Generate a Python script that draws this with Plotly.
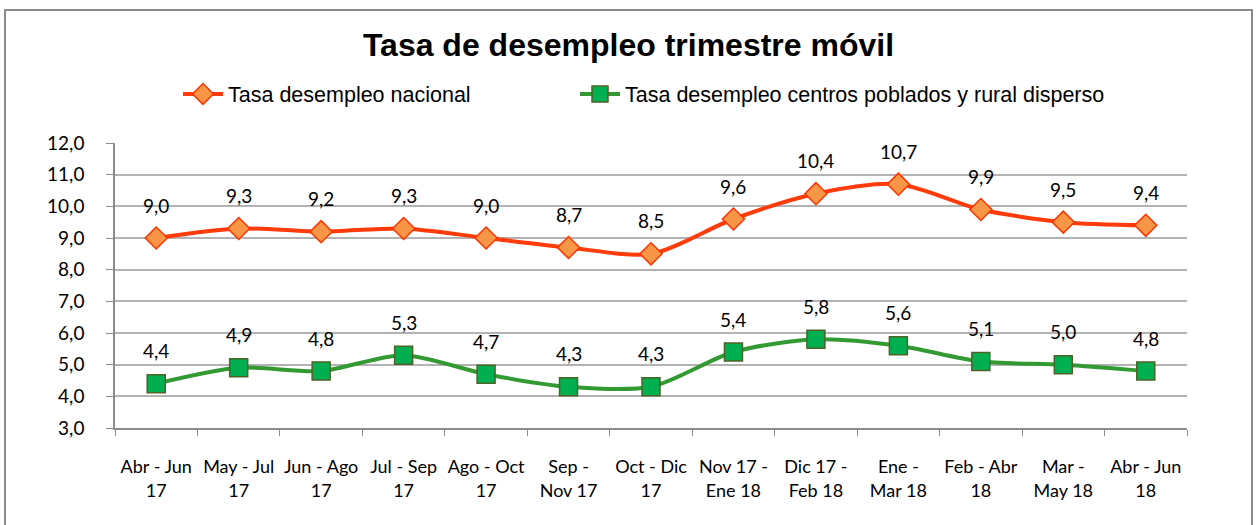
import plotly.graph_objects as go

categories = ["Abr - Jun<br>17", "May - Jul<br>17", "Jun - Ago<br>17", "Jul - Sep<br>17",
              "Ago - Oct<br>17", "Sep -<br>Nov 17", "Oct - Dic<br>17", "Nov 17 -<br>Ene 18",
              "Dic 17 -<br>Feb 18", "Ene -<br>Mar 18", "Feb - Abr<br>18", "Mar -<br>May 18",
              "Abr - Jun<br>18"]
nacional = [9.0, 9.3, 9.2, 9.3, 9.0, 8.7, 8.5, 9.6, 10.4, 10.7, 9.9, 9.5, 9.4]
rural = [4.4, 4.9, 4.8, 5.3, 4.7, 4.3, 4.3, 5.4, 5.8, 5.6, 5.1, 5.0, 4.8]
name_nacional = "Tasa desempleo nacional"
name_rural = "Tasa desempleo centros poblados y rural disperso"
y_ticks = [3, 4, 5, 6, 7, 8, 9, 10, 11, 12]

fig = go.Figure()
fig.add_trace(go.Scatter(
    x=categories, y=nacional, name=name_nacional, mode="lines+markers", legend="legend",
    line=dict(color="#FF3B0A", width=4, shape="spline", smoothing=0.8),
    marker=dict(symbol="diamond", size=17, color="#F79646", line=dict(color="#FF3300", width=1.5)),
))
fig.add_trace(go.Scatter(
    x=categories, y=rural, name=name_rural, mode="lines+markers", legend="legend2",
    line=dict(color="#339933", width=4, shape="spline", smoothing=0.8),
    marker=dict(symbol="square", size=18, color="#00B050", line=dict(color="#4F6228", width=1.5)),
))

for series in (nacional, rural):
    for c, v in zip(categories, series):
        fig.add_annotation(x=c, y=v, text=f"{v:.1f}".replace(".", ","), showarrow=False,
                           yshift=33, font=dict(family="Lato", size=19, color="#000000"))

fig.add_shape(type="rect", xref="paper", yref="paper",
              x0=(5 - 115) / 1072, x1=(1252 - 115) / 1072,
              y0=(428 - 540) / 285, y1=(428 - 10) / 285,
              line=dict(color="#8C8C8C", width=2), layer="below")

legend_style = dict(orientation="h", y=(428 - 94) / 285, yanchor="middle", xanchor="left",
                    font=dict(family="Liberation Sans", size=21.5, color="#000000"),
                    bgcolor="rgba(0,0,0,0)", itemwidth=40)

fig.update_layout(
    width=1257, height=525,
    margin=dict(l=115, r=70, t=143, b=97),
    paper_bgcolor="white", plot_bgcolor="white",
    separators=",.",
    title=dict(text="<b>Tasa de desempleo trimestre móvil</b>", x=0.5, xanchor="center",
               y=1 - 45 / 525, yanchor="middle",
               font=dict(family="Liberation Sans", size=32, color="#000000")),
    legend=dict(x=(178 - 115) / 1072, **legend_style),
    legend2=dict(x=(575 - 115) / 1072, **legend_style),
    showlegend=True,
)
fig.update_xaxes(
    type="category", range=[-0.5, 12.5], tickson="boundaries", ticks="outside", ticklen=6,
    tickcolor="#8C8C8C", showline=True, linecolor="#8C8C8C", linewidth=1.5, showgrid=False,
    tickangle=0, automargin=False,
    tickfont=dict(family="Lato", size=18, color="#000000"), ticklabelstandoff=22,
)
fig.update_yaxes(
    range=[3, 12], tickvals=y_ticks, tickformat=".1f", ticks="outside", ticklen=7,
    tickcolor="#8C8C8C", showline=True, linecolor="#8C8C8C", linewidth=1.5,
    showgrid=True, gridcolor="#B3B3B3", gridwidth=1.5, zeroline=False, automargin=False,
    tickfont=dict(family="Lato", size=19, color="#000000"), ticklabelstandoff=18,
)

fig.write_html("out.html")
